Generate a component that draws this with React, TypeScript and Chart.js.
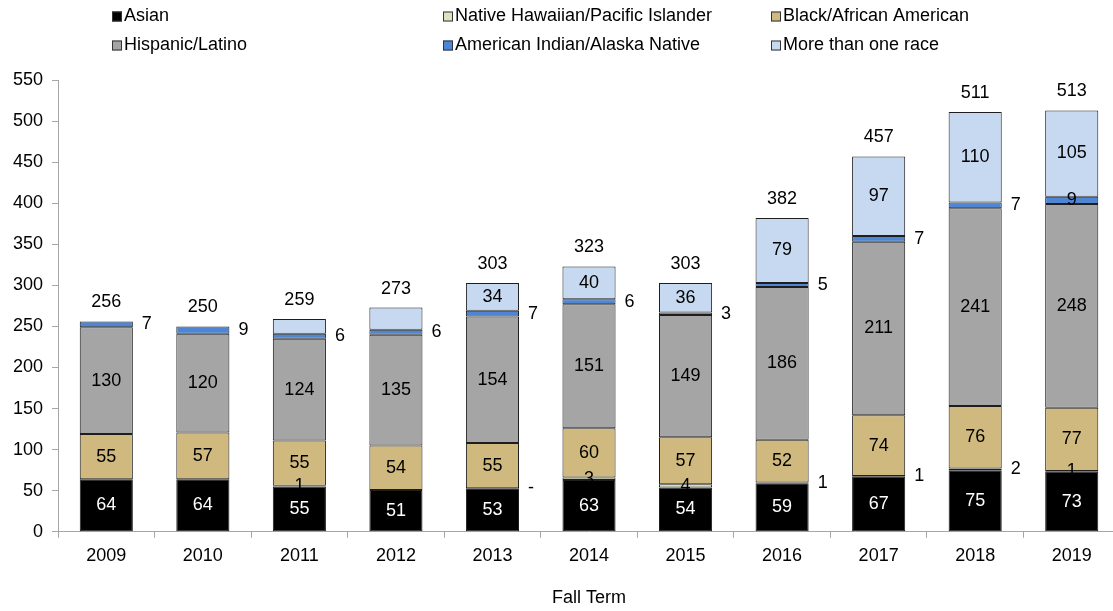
import React, { useEffect, useRef } from 'react';
import { Chart, registerables } from 'chart.js';

Chart.register(...registerables);

const years = ['2009', '2010', '2011', '2012', '2013', '2014', '2015', '2016', '2017', '2018', '2019'];
const asian = [64, 64, 55, 51, 53, 63, 54, 59, 67, 75, 73];
const nativeHawaiian = [0, 0, 1, 0, 0, 3, 4, 1, 1, 2, 1];
const blackAfrican = [55, 57, 55, 54, 55, 60, 57, 52, 74, 76, 77];
const hispanic = [130, 120, 124, 135, 154, 151, 149, 186, 211, 241, 248];
const americanIndian = [7, 9, 6, 6, 7, 6, 3, 5, 7, 7, 9];
const multiRace = [0, 0, 18, 27, 34, 40, 36, 79, 97, 110, 105];
const totals = [256, 250, 259, 273, 303, 323, 303, 382, 457, 511, 513];
const yTickValues = [0, 50, 100, 150, 200, 250, 300, 350, 400, 450, 500, 550];

const seriesNames = [
  'Asian',
  'Native Hawaiian/Pacific Islander',
  'Black/African American',
  'Hispanic/Latino',
  'American Indian/Alaska Native',
  'More than one race',
];
const seriesValues = [asian, nativeHawaiian, blackAfrican, hispanic, americanIndian, multiRace];
const seriesColors = ['#000000', '#d7e4bd', '#cfb97f', '#a5a5a5', '#4f86d4', '#c6d9f1'];

// label placement per series per year: c = centered, r = right of bar, n = none
const labelPlacement = [
  ['c', 'c', 'c', 'c', 'c', 'c', 'c', 'c', 'c', 'c', 'c'],
  ['n', 'n', 'c', 'n', 'r', 'c', 'c', 'r', 'r', 'r', 'c'],
  ['c', 'c', 'c', 'c', 'c', 'c', 'c', 'c', 'c', 'c', 'c'],
  ['c', 'c', 'c', 'c', 'c', 'c', 'c', 'c', 'c', 'c', 'c'],
  ['r', 'r', 'r', 'r', 'r', 'r', 'r', 'r', 'r', 'r', 'c'],
  ['n', 'n', 'n', 'n', 'c', 'c', 'c', 'c', 'c', 'c', 'c'],
];

const FONT = '"Liberation Sans", Arial, sans-serif';
const FS = 18;

const segLabels = {
  id: 'segLabels',
  afterDatasetsDraw(chart: any) {
    const ctx = chart.ctx;
    ctx.save();
    ctx.font = `${FS}px ${FONT}`;
    ctx.textBaseline = 'middle';
    chart.data.datasets.forEach((ds: any, di: number) => {
      const meta = chart.getDatasetMeta(di);
      meta.data.forEach((bar: any, i: number) => {
        const mode = labelPlacement[di][i];
        if (mode === 'n') return;
        const v = ds.data[i];
        const text = v === 0 ? '-' : String(v);
        const p = bar.getProps(['x', 'y', 'base', 'width'], true);
        const cy = (p.y + p.base) / 2;
        if (mode === 'c') {
          ctx.textAlign = 'center';
          ctx.fillStyle = di === 0 ? '#ffffff' : '#000000';
          ctx.fillText(text, p.x, cy);
        } else {
          ctx.textAlign = 'left';
          ctx.fillStyle = '#000000';
          ctx.fillText(text, p.x + p.width / 2 + 9, cy);
        }
      });
    });
    const topMeta = chart.getDatasetMeta(chart.data.datasets.length - 1);
    topMeta.data.forEach((bar: any, i: number) => {
      const p = bar.getProps(['x', 'y'], true);
      ctx.textAlign = 'center';
      ctx.fillStyle = '#000000';
      ctx.fillText(String(totals[i]), p.x, p.y - 19);
    });
    ctx.restore();
  },
};

const gridLegend = {
  id: 'gridLegend',
  afterDraw(chart: any) {
    const ctx = chart.ctx;
    const cols = [112, 443, 771];
    const rows = [16.5, 45.5];
    ctx.save();
    ctx.font = `${FS}px ${FONT}`;
    ctx.textBaseline = 'middle';
    ctx.textAlign = 'left';
    chart.data.datasets.forEach((ds: any, di: number) => {
      const x = cols[di % 3];
      const y = rows[Math.floor(di / 3)];
      ctx.fillStyle = ds.backgroundColor;
      ctx.fillRect(x, y - 5, 10, 10);
      ctx.strokeStyle = '#333333';
      ctx.lineWidth = 1;
      ctx.strokeRect(x + 0.5, y - 4.5, 9, 9);
      ctx.fillStyle = '#000000';
      ctx.fillText(ds.label, x + 12, y);
    });
    ctx.restore();
  },
};

export default function App() {
  const ref = useRef<HTMLCanvasElement>(null);
  useEffect(() => {
    document.body.style.margin = '0';
    document.body.style.overflow = 'hidden';
    Chart.defaults.font.family = FONT;
    Chart.defaults.font.size = FS;
    Chart.defaults.color = '#000000';
    const chart = new Chart(ref.current as HTMLCanvasElement, {
      type: 'bar',
      data: {
        labels: years,
        datasets: seriesNames.map((name, i) => ({
          label: name,
          data: seriesValues[i],
          backgroundColor: seriesColors[i],
          borderColor: '#1e1e1e',
          borderWidth: (c: any) => (c.raw === 0 ? 0 : 1),
          borderSkipped: false,
          categoryPercentage: 1,
          barPercentage: 0.55,
        })),
      },
      options: {
        responsive: false,
        animation: false,
        devicePixelRatio: 1,
        layout: { padding: { top: 80, left: 4, right: 0, bottom: 0 } },
        plugins: {
          legend: { display: false },
          tooltip: { enabled: false },
        },
        scales: {
          x: {
            stacked: true,
            grid: {
              display: true,
              drawOnChartArea: false,
              drawTicks: true,
              tickLength: 6,
              color: '#a6a6a6',
              offset: true,
            },
            border: { color: '#a6a6a6', width: 1 },
            ticks: { padding: 7, color: '#000000', font: { size: FS, family: FONT } },
            title: {
              display: true,
              text: 'Fall Term',
              color: '#000000',
              font: { size: FS, family: FONT },
              padding: { top: 14, bottom: 2 },
            },
          },
          y: {
            stacked: true,
            min: 0,
            max: 550,
            afterBuildTicks: (axis: any) => {
              axis.ticks = yTickValues.map((v) => ({ value: v }));
            },
            grid: {
              display: true,
              drawOnChartArea: false,
              drawTicks: true,
              tickLength: 6,
              color: '#a6a6a6',
            },
            border: { color: '#a6a6a6', width: 1 },
            ticks: { padding: 9, color: '#000000', font: { size: FS, family: FONT } },
          },
        },
      },
      plugins: [segLabels, gridLegend],
    } as any);
    return () => chart.destroy();
  }, []);
  return (
    <div style={{ width: 1113, height: 611, overflow: 'hidden', position: 'relative' }}>
      <canvas ref={ref} width={1120} height={611} style={{ display: 'block' }} />
    </div>
  );
}
